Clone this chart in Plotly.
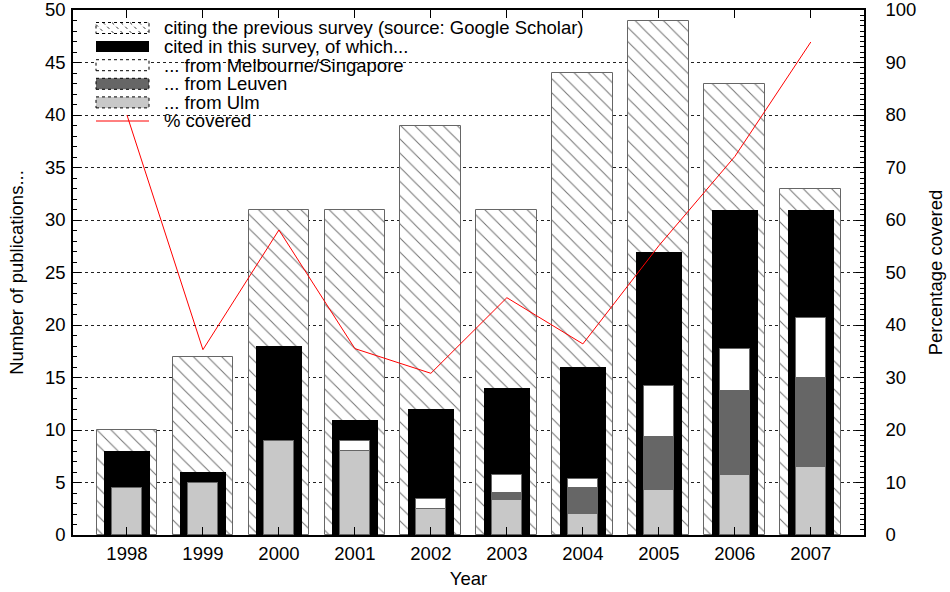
import numpy as np
import plotly.graph_objects as go

years = ["1998", "1999", "2000", "2001", "2002", "2003", "2004", "2005", "2006", "2007"]
scholar = [10, 17, 31, 31, 39, 31, 44, 49, 43, 33]
cited = [8, 6, 18, 11, 12, 14, 16, 27, 31, 31]
ulm = [4.5, 5, 9, 8, 2.5, 3.33, 2, 4.33, 5.67, 6.5]
leuven = [0, 0, 0, 0, 0, 0.67, 2.5, 5, 8, 8.5]
melbourne = [0, 0, 0, 1, 0.9, 1.7, 0.8, 4.87, 4, 5.67]
covered = [80.0, 35.3, 58.1, 35.5, 30.8, 45.2, 36.4, 55.1, 72.1, 93.9]

legend_labels = [
    "citing the previous survey (source: Google Scholar)",
    "cited in this survey, of which...",
    "... from Melbourne/Singapore",
    "... from Leuven",
    "... from Ulm",
    "% covered",
]

FONT = "Liberation Sans, Arial, Helvetica, sans-serif"
FS = 18.5
edge = dict(color="#666666", width=1)
HATCH = dict(shape="\\", fgcolor="black", bgcolor="white", size=10, solidity=0.1, fgopacity=0.55)
SUB_COLORS = {"melb": "white", "leuven": "#666666", "ulm": "#c8c8c8"}

W, H = 950, 592
# plot area in window pixels: x 73..864, y 10..535
SL, SR, ST, SB = 73, 864, 10, 535
ML, MT, MR, MB = SL, ST, W - SR, H - SB
PW, PH = SR - SL, SB - ST


def px(x):
    return (x - SL) / PW


def py(y):
    return (SB - y) / PH


base_leuven = np.array(ulm)
base_melb = base_leuven + np.array(leuven)

fig = go.Figure()
fig.add_trace(go.Bar(
    x=years, y=scholar, width=0.8, name=legend_labels[0],
    marker=dict(color="white", line=edge, pattern=HATCH)))
fig.add_trace(go.Bar(
    x=years, y=cited, width=0.6, name=legend_labels[1],
    marker=dict(color="black", line=dict(color="black", width=0))))
fig.add_trace(go.Bar(
    x=years, y=ulm, width=0.4, name=legend_labels[4],
    marker=dict(color=SUB_COLORS["ulm"], line=edge)))
fig.add_trace(go.Bar(
    x=years, y=leuven, base=base_leuven, width=0.4, name=legend_labels[3],
    marker=dict(color=SUB_COLORS["leuven"], line=edge)))
fig.add_trace(go.Bar(
    x=years, y=melbourne, base=base_melb, width=0.4, name=legend_labels[2],
    marker=dict(color=SUB_COLORS["melb"], line=edge)))
fig.add_trace(go.Scatter(
    x=years, y=covered, yaxis="y2", mode="lines", name=legend_labels[5],
    line=dict(color="red", width=1)))

# ---- key (legend) drawn as decoration, gnuplot style ----
shapes = [dict(type="rect", xref="paper", yref="paper", x0=0.003, x1=px(729), y0=py(132), y1=0.997,
               fillcolor="white", line=dict(width=0), layer="between")]
annotations = []
row_y = [28 + 18.6 * i for i in range(6)]
sx0, sx1 = 96, 149
for i, (label, yc) in enumerate(zip(legend_labels, row_y)):
    annotations.append(dict(text=label, xref="paper", yref="paper", x=px(162), y=py(yc),
                            xanchor="left", yanchor="middle", showarrow=False,
                            font=dict(family=FONT, size=FS, color="black")))
    y0, y1 = yc - 5.5, yc + 5.5
    if i == 5:
        shapes.append(dict(type="line", xref="paper", yref="paper", x0=px(sx0), x1=px(sx1),
                           y0=py(yc), y1=py(yc), line=dict(color="red", width=1), layer="above"))
        continue
    if i == 1:
        shapes.append(dict(type="rect", xref="paper", yref="paper", x0=px(sx0), x1=px(sx1),
                           y0=py(y1), y1=py(y0), fillcolor="black", line=dict(width=0), layer="above"))
        continue
    fill = {0: "white", 2: SUB_COLORS["melb"], 3: SUB_COLORS["leuven"], 4: SUB_COLORS["ulm"]}[i]
    shapes.append(dict(type="rect", xref="paper", yref="paper", x0=px(sx0), x1=px(sx1),
                       y0=py(y1), y1=py(y0), fillcolor=fill,
                       line=dict(color="black", width=1, dash="dot"), layer="above"))
    if i == 0:
        segs = []
        hgt = y1 - y0
        for s in np.arange(sx0 - hgt, sx1, 9):
            xa, ya = s, y0
            xb, yb = s + hgt, y1
            if xa < sx0:
                ya = y0 + (sx0 - xa)
                xa = sx0
            if xb > sx1:
                yb = y1 - (xb - sx1)
                xb = sx1
            if xb > xa:
                segs.append(f"M{px(xa):.5f},{py(ya):.5f}L{px(xb):.5f},{py(yb):.5f}")
        shapes.append(dict(type="path", xref="paper", yref="paper", path="".join(segs),
                           line=dict(color="black", width=0.8, dash="dot"), layer="above"))

fig.update_layout(
    width=W, height=H,
    margin=dict(l=ML, r=MR, t=MT, b=MB, autoexpand=False),
    paper_bgcolor="white", plot_bgcolor="white",
    barmode="overlay", bargap=0,
    font=dict(family=FONT, size=FS, color="black"),
    showlegend=False,
    xaxis=dict(type="category", range=[-0.71, 9.70], automargin=False,
               showline=True, linecolor="black", linewidth=1.5, mirror="ticks",
               ticks="inside", ticklen=8, tickcolor="black", showgrid=False,
               ticklabelstandoff=1, ticklabeloverflow="allow",
               title=dict(text="Year", standoff=9, font=dict(size=FS)),
               tickfont=dict(size=FS)),
    yaxis=dict(range=[0, 50], dtick=5, tick0=0, automargin=False,
               showline=True, linecolor="black", linewidth=1.5,
               ticks="inside", ticklen=8, tickcolor="black",
               minor=dict(dtick=1, ticks="inside", ticklen=4, tickcolor="black", showgrid=False),
               showgrid=True, gridcolor="#222222", griddash="dot", gridwidth=1,
               zeroline=False, ticklabelstandoff=2, ticklabeloverflow="allow",
               title=dict(text="Number of publications...", standoff=16, font=dict(size=FS)),
               tickfont=dict(size=FS)),
    yaxis2=dict(range=[0, 100], dtick=10, tick0=0, overlaying="y", side="right", automargin=False,
                showline=True, linecolor="black", linewidth=1.5,
                ticks="inside", ticklen=8, tickcolor="black",
                minor=dict(dtick=1, ticks="inside", ticklen=4, tickcolor="black", showgrid=False),
                showgrid=False, zeroline=False, ticklabelstandoff=16, ticklabeloverflow="allow",
                title=dict(text="Percentage covered", standoff=14, font=dict(size=FS)),
                tickfont=dict(size=FS)),
    shapes=shapes,
    annotations=annotations,
)

fig.write_html("out.html", config={"displayModeBar": False},
               post_script="document.body.style.margin = '0px';")
